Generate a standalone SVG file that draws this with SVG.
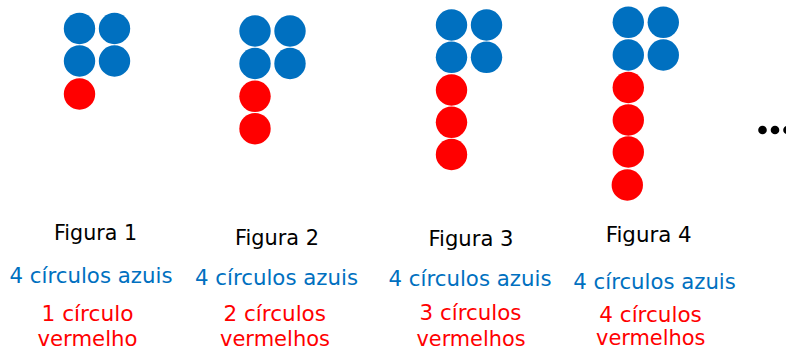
<svg xmlns="http://www.w3.org/2000/svg" width="786" height="351" viewBox="0 0 786 351">
<style>
.b{fill:#0070C0}
.r{fill:#FF0000}
text{font-family:"DejaVu Sans","Liberation Sans",sans-serif;font-size:22px}
.tk{fill:#000}
.tb{fill:#0070C0}
.tr{fill:#FF0000}
</style>
<rect width="786" height="351" fill="#fff"/>
<g id="fig1">
<circle class="b" cx="79.5" cy="28.5" r="15.7"/><circle class="b" cx="114.5" cy="28.5" r="15.7"/>
<circle class="b" cx="79.5" cy="61" r="15.7"/><circle class="b" cx="114.5" cy="61" r="15.7"/>
<circle class="r" cx="79.5" cy="94" r="15.7"/>
<text class="tk" x="54" y="240" textLength="83" lengthAdjust="spacingAndGlyphs">Figura 1</text>
<text class="tb" x="9.5" y="282.5" textLength="163" lengthAdjust="spacingAndGlyphs">4 círculos azuis</text>
<text class="tr" x="41.5" y="320.5" textLength="92" lengthAdjust="spacingAndGlyphs">1 círculo</text>
<text class="tr" x="37.5" y="345.5" textLength="100" lengthAdjust="spacingAndGlyphs">vermelho</text>
</g>
<g id="fig2">
<circle class="b" cx="255" cy="31" r="15.7"/><circle class="b" cx="290" cy="31" r="15.7"/>
<circle class="b" cx="255" cy="63.5" r="15.7"/><circle class="b" cx="290" cy="63.5" r="15.7"/>
<circle class="r" cx="255" cy="96.3" r="15.7"/>
<circle class="r" cx="255" cy="128.7" r="15.7"/>
<text class="tk" x="235" y="245" textLength="84" lengthAdjust="spacingAndGlyphs">Figura 2</text>
<text class="tb" x="195" y="285" textLength="163" lengthAdjust="spacingAndGlyphs">4 círculos azuis</text>
<text class="tr" x="223.5" y="320.5" textLength="102.5" lengthAdjust="spacingAndGlyphs">2 círculos</text>
<text class="tr" x="220" y="345.5" textLength="110" lengthAdjust="spacingAndGlyphs">vermelhos</text>
</g>
<g id="fig3">
<circle class="b" cx="451.5" cy="25" r="15.7"/><circle class="b" cx="486.5" cy="25" r="15.7"/>
<circle class="b" cx="451.5" cy="57.3" r="15.7"/><circle class="b" cx="486.5" cy="57.3" r="15.7"/>
<circle class="r" cx="451.5" cy="90" r="15.7"/>
<circle class="r" cx="451.5" cy="122.3" r="15.7"/>
<circle class="r" cx="451.5" cy="154.5" r="15.7"/>
<text class="tk" x="428.5" y="246" textLength="85" lengthAdjust="spacingAndGlyphs">Figura 3</text>
<text class="tb" x="388.5" y="286" textLength="163" lengthAdjust="spacingAndGlyphs">4 círculos azuis</text>
<text class="tr" x="419.5" y="320" textLength="102" lengthAdjust="spacingAndGlyphs">3 círculos</text>
<text class="tr" x="416.5" y="345.5" textLength="109" lengthAdjust="spacingAndGlyphs">vermelhos</text>
</g>
<g id="fig4">
<circle class="b" cx="628.3" cy="22.3" r="15.7"/><circle class="b" cx="663.3" cy="22.3" r="15.7"/>
<circle class="b" cx="628.3" cy="55" r="15.7"/><circle class="b" cx="663.3" cy="55" r="15.7"/>
<circle class="r" cx="628.3" cy="87.5" r="15.7"/>
<circle class="r" cx="628.3" cy="120" r="15.7"/>
<circle class="r" cx="628.3" cy="152" r="15.7"/>
<circle class="r" cx="627.3" cy="185" r="15.7"/>
<text class="tk" x="605.7" y="242" textLength="86" lengthAdjust="spacingAndGlyphs">Figura 4</text>
<text class="tb" x="573.3" y="289.3" textLength="162.5" lengthAdjust="spacingAndGlyphs">4 círculos azuis</text>
<text class="tr" x="599.3" y="322" textLength="102.5" lengthAdjust="spacingAndGlyphs">4 círculos</text>
<text class="tr" x="596" y="345" textLength="109.5" lengthAdjust="spacingAndGlyphs">vermelhos</text>
</g>
<g id="ellipsis" fill="#000">
<circle cx="762.5" cy="130" r="4.3"/>
<circle cx="775" cy="130" r="4.3"/>
<circle cx="787.5" cy="130" r="4.3"/>
</g>
</svg>
